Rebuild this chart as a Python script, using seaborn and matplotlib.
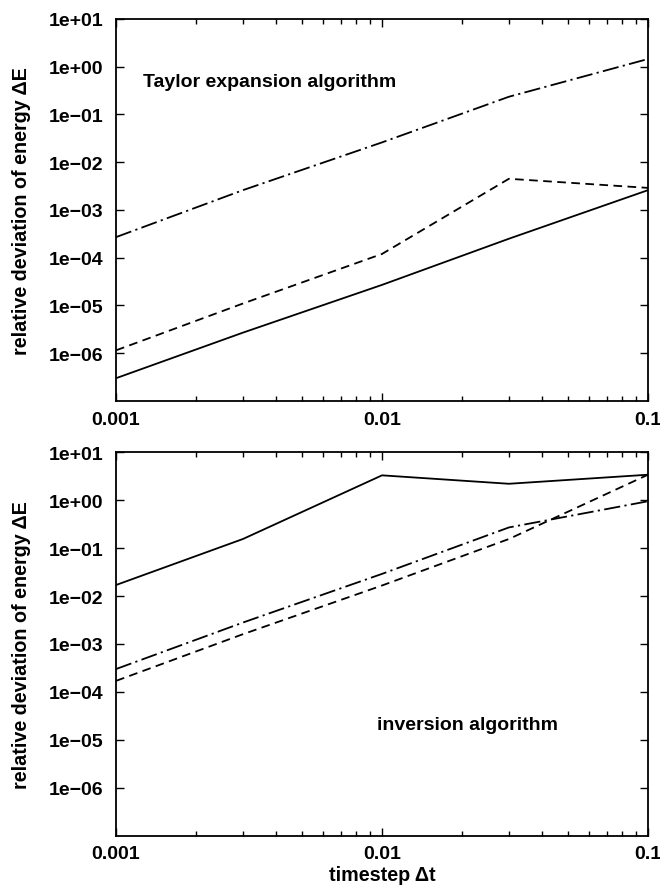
import numpy as np
import pandas as pd
import matplotlib
matplotlib.use("Agg")
import matplotlib.pyplot as plt
import matplotlib.ticker as mticker
import seaborn as sns

# ---- data ----
timestep = [0.001, 0.003, 0.01, 0.03, 0.1]

taylor_solid = [3.0e-7, 2.7e-6, 2.7e-5, 2.5e-4, 2.6e-3]
taylor_dashed = [1.15e-6, 1.1e-5, 1.2e-4, 4.5e-3, 2.9e-3]
taylor_dashdot = [2.7e-4, 2.6e-3, 2.6e-2, 2.35e-1, 1.45]

inversion_solid = [1.7e-2, 1.55e-1, 3.3, 2.2, 3.4]
inversion_dashed = [1.7e-4, 1.6e-3, 1.66e-2, 1.55e-1, 3.4]
inversion_dashdot = [3.0e-4, 2.8e-3, 2.9e-2, 2.7e-1, 0.95]

xtick_vals = [0.001, 0.01, 0.1]
xtick_labels = ["0.001", "0.01", "0.1"]
ytick_vals = [1e1, 1e0, 1e-1, 1e-2, 1e-3, 1e-4, 1e-5, 1e-6]
ytick_labels = ["1e+01", "1e+00", "1e\u221201", "1e\u221202", "1e\u221203",
                "1e\u221204", "1e\u221205", "1e\u221206"]

panel_titles = ["Taylor expansion algorithm", "inversion algorithm"]
ylabel = "relative deviation of energy \u0394E"
xlabel = "timestep \u0394t"

sns.set_style("ticks")
plt.rcParams["font.family"] = ["Liberation Sans", "DejaVu Sans"]
plt.rcParams["font.weight"] = "bold"
plt.rcParams["axes.labelweight"] = "bold"
plt.rcParams["text.color"] = "black"
plt.rcParams["axes.labelcolor"] = "black"
plt.rcParams["xtick.color"] = "black"
plt.rcParams["ytick.color"] = "black"
plt.rcParams["xtick.labelcolor"] = "black"
plt.rcParams["ytick.labelcolor"] = "black"

dash_map = {"solid": "", "dashed": (4.8, 3.0), "dashdot": (9.0, 2.4, 1.2, 2.4)}

def make_df(s, d, dd):
    rows = []
    for name, vals in (("solid", s), ("dashed", d), ("dashdot", dd)):
        for x, y in zip(timestep, vals):
            rows.append({"dt": x, "dE": y, "series": name})
    return pd.DataFrame(rows)

dfs = [make_df(taylor_solid, taylor_dashed, taylor_dashdot),
       make_df(inversion_solid, inversion_dashed, inversion_dashdot)]

fig = plt.figure(figsize=(6.6, 8.87), dpi=100)
ax_top = fig.add_axes([0.1758, 0.5468, 0.806, 0.4307])
ax_bot = fig.add_axes([0.1758, 0.0567, 0.806, 0.4323])

for ax, df in zip([ax_top, ax_bot], dfs):
    sns.lineplot(data=df, x="dt", y="dE", style="series", dashes=dash_map,
                 style_order=["solid", "dashed", "dashdot"],
                 color="black", linewidth=1.3, legend=False, ax=ax,
                 estimator=None, sort=False)
    ax.set_xscale("log")
    ax.set_yscale("log")
    ax.set_xlim(0.001, 0.1)
    ax.set_ylim(1e-7, 1e1)
    ax.xaxis.set_major_locator(mticker.FixedLocator(xtick_vals))
    ax.xaxis.set_major_formatter(mticker.FixedFormatter(xtick_labels))
    ax.xaxis.set_minor_locator(mticker.LogLocator(base=10, subs=np.arange(2, 10)))
    ax.xaxis.set_minor_formatter(mticker.NullFormatter())
    ax.yaxis.set_major_locator(mticker.FixedLocator(ytick_vals))
    ax.yaxis.set_major_formatter(mticker.FixedFormatter(ytick_labels))
    ax.yaxis.set_minor_locator(mticker.NullLocator())
    ax.tick_params(which="both", direction="in", top=True, right=True,
                   width=1.0, color="black", labelcolor="black")
    ax.tick_params(which="major", length=6, labelsize=14)
    ax.tick_params(axis="y", which="major", pad=9)
    ax.tick_params(axis="x", which="major", pad=7)
    ax.tick_params(which="minor", length=3.5)
    for sp in ax.spines.values():
        sp.set_linewidth(1.3)
        sp.set_color("black")
    ax.set_ylabel(ylabel, fontsize=14.2, fontweight="bold", labelpad=13,
                  color="black")
    ax.set_xlabel("")

ax_bot.set_xlabel(xlabel, fontsize=14.2, fontweight="bold", labelpad=2,
                  color="black")

ax_top.text(0.05, 0.835, panel_titles[0], transform=ax_top.transAxes,
            fontsize=14, fontweight="bold", ha="left", va="center",
            color="black")
ax_bot.text(0.49, 0.29, panel_titles[1], transform=ax_bot.transAxes,
            fontsize=14, fontweight="bold", ha="left", va="center",
            color="black")

fig.savefig("out.png", dpi=100)
